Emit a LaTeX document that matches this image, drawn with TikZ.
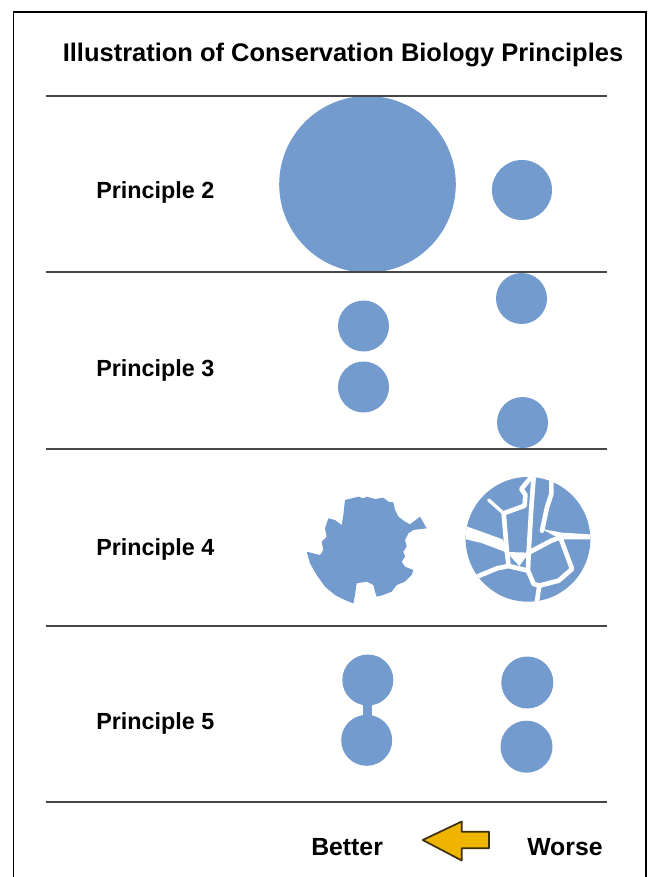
\documentclass[tikz,border=0pt]{standalone}
\usepackage{fontspec}
\setmainfont{Liberation Sans}
\definecolor{patch}{RGB}{115,155,205}
\definecolor{rulegray}{RGB}{70,70,70}
\definecolor{arrowedge}{RGB}{60,50,15}
\definecolor{arrowgold}{RGB}{255,226,30}
\definecolor{arrowamber}{RGB}{238,180,0}
\begin{document}
\begin{tikzpicture}[x=0.75pt,y=-0.75pt,
  blob/.style={fill=patch,draw=none},
  rule/.style={draw=rulegray,line width=1.5pt},
  lbl/.style={font=\fontsize{17.5}{20}\selectfont\bfseries,anchor=base west,inner sep=0pt},
  foot/.style={font=\fontsize{18.6}{21}\selectfont\bfseries,anchor=base west,inner sep=0pt},
  crack/.style={draw=white,line width=3.5pt,line join=round,line cap=round},
]
\useasboundingbox (0,0) rectangle (659,877);
\fill[white] (0,0) rectangle (659,877);

% open frame, running off the bottom edge
\draw[black,line width=1.2pt] (13.5,877) -- (13.5,12) -- (646,12) -- (646,877);

% title
\node[font=\fontsize{19.1}{22}\selectfont\bfseries,anchor=base,inner sep=0pt]
  (title) at (343,62) {Illustration of Conservation Biology Principles};

% Principle 2: one large reserve vs one small reserve
\path[blob] (367.5,184.3) circle (88.3);
\path[blob] (522,190) circle (30);

% Principle 3: clustered vs scattered reserves
\path[blob] (363.5,326) circle (25.5);
\path[blob] (363.5,387) circle (25.5);
\path[blob] (521.5,298.5) circle (25.5);
\path[blob] (522.5,422.5) circle (25.5);

% Principle 4: compact but ragged patch
\begin{scope}[shift={(295,485)},scale=1/3]
  \path[blob]
    (150,45) -- (190,35) -- (205,40) -- (215,35) -- (240,42) -- (265,38)
    -- (280,50) -- (295,52) -- (300,75) -- (310,95) -- (330,110) -- (345,118)
    -- (375,95) -- (395,130) -- (355,135) -- (340,145) -- (330,165)
    -- (335,185) -- (325,200) -- (330,215) -- (320,230) -- (330,245)
    -- (355,255) -- (350,270) -- (330,290) -- (305,300) -- (290,320)
    -- (265,330) -- (245,335) -- (240,320) -- (235,300) -- (215,290)
    -- (185,295) -- (180,330) -- (175,355) -- (150,345) -- (120,330)
    -- (90,305) -- (65,270) -- (45,235) -- (35,200) -- (55,205) -- (75,210)
    -- (85,195) -- (80,170) -- (95,155) -- (90,130) -- (100,100)
    -- (120,105) -- (140,120) -- (145,90) -- cycle;
\end{scope}

% Principle 4: fragmented patch
\begin{scope}[shift={(462,474)},scale=1/3]
  \path[blob] (198,196) circle (187);
  \begin{scope}
    \clip (198,196) circle (187);
    % open gaps between shards
    \fill[white] (5,154) -- (122,196) -- (140,238) -- (62,208) -- (5,194) -- cycle;
    \fill[white] (133,234) -- (202,236) -- (172,276) -- cycle;
    \fill[white] (240,165) -- (300,176) -- (400,182) -- (400,196) -- (296,196) -- cycle;
    % fracture lines
    \draw[crack,line width=2.5pt] (80,78) -- (125,118);
    \draw[crack] (215,0) -- (178,45) -- (190,62) -- (188,95) -- (125,118) -- (135,236);
    \draw[crack] (215,8) -- (208,100) -- (200,236);
    \draw[crack] (268,15) -- (268,60) -- (255,100) -- (240,170);
    \draw[crack] (200,236) -- (268,200) -- (295,190);
    \draw[crack] (295,190) -- (330,285) -- (290,320) -- (232,335) -- (222,400);
    \draw[crack] (200,236) -- (198,290) -- (215,330) -- (232,335);
    \draw[crack] (198,290) -- (140,276) -- (105,283) -- (45,308);
    \draw[crack] (135,236) -- (140,276);
  \end{scope}
\end{scope}

% Principle 5: linked vs unlinked reserves
\path[blob] (367.8,680) circle (25.5);
\path[blob] (366.7,740.3) circle (25.5);
\path[blob] (362.7,698) rectangle (372,722);
\path[blob] (527.3,682.5) circle (26);
\path[blob] (526.5,746.7) circle (26);

% separating rules
\foreach \yy in {96,272,449,626,802}
  \draw[rule] (46,\yy) -- (607,\yy);

% row labels
\node[lbl] (p2) at (96,199) {Principle 2};
\node[lbl] (p3) at (96,376) {Principle 3};
\node[lbl] (p4) at (96,555) {Principle 4};
\node[lbl] (p5) at (96,729) {Principle 5};

% direction key
\node[foot] (better) at (311,855) {Better};
\node[foot] (worse) at (527,855) {Worse};
\path[draw=arrowedge,line width=1.3pt,line join=round,
      top color=arrowamber,middle color=arrowgold,bottom color=arrowamber]
  (422.7,840) -- (461.7,821.5) -- (461.7,831.7) -- (489,831.7)
  -- (489,848.3) -- (461.7,848.3) -- (461.7,860.5) -- cycle;
\end{tikzpicture}
\end{document}
